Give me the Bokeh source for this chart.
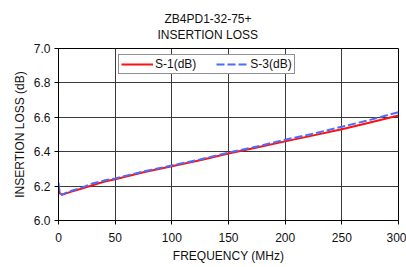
from bokeh.plotting import figure
from bokeh.models import Title, Legend, LegendItem, FixedTicker, Range1d
from bokeh.embed import file_html
from bokeh.resources import INLINE

freq = [0, 1, 3, 10, 20, 30, 40, 50, 75, 100, 125, 150, 175, 200, 225, 250, 275, 300]
s1_db = [6.20, 6.16, 6.15, 6.165, 6.185, 6.205, 6.225, 6.24, 6.28, 6.315, 6.35, 6.39, 6.425, 6.46, 6.495, 6.53, 6.57, 6.61]
s3_db = [6.22, 6.16, 6.15, 6.17, 6.19, 6.215, 6.232, 6.245, 6.285, 6.32, 6.355, 6.395, 6.43, 6.47, 6.505, 6.545, 6.585, 6.63]
x_ticks = [0, 50, 100, 150, 200, 250, 300]
y_ticks = [6.0, 6.2, 6.4, 6.6, 6.8, 7.0]
title_lines = ["ZB4PD1-32-75+", "INSERTION  LOSS"]

FONT = "Liberation Sans"
FS = "12px"

p = figure(width=406, height=267, output_backend="svg", toolbar_location=None,
           x_range=Range1d(0, 300), y_range=Range1d(6.0, 7.0),
           min_border_left=58, min_border_top=48, min_border_right=8, min_border_bottom=47)

# spacer between the frame and the title block
p.add_layout(Title(text=" ", standoff=0, text_font=FONT, text_font_size="4px"), "above")
p.add_layout(Title(text=title_lines[1], align="left", offset=99, standoff=0,
                   text_font=FONT, text_font_size=FS, text_font_style="normal",
                   text_color="#111111"), "above")
p.add_layout(Title(text=title_lines[0], align="left", offset=106, standoff=0,
                   text_font=FONT, text_font_size=FS, text_font_style="normal",
                   text_color="#111111"), "above")

p.outline_line_color = "black"
p.outline_line_width = 1

for ax in (p.xaxis, p.yaxis):
    ax.major_label_text_font = FONT
    ax.major_label_text_font_size = FS
    ax.major_label_text_color = "#111111"
    ax.axis_label_text_font = FONT
    ax.axis_label_text_font_size = FS
    ax.axis_label_text_font_style = "normal"
    ax.axis_label_text_color = "#111111"
    ax.minor_tick_line_color = None
    ax.major_tick_in = 0
    ax.major_tick_out = 4
    ax.major_tick_line_color = "black"
    ax.axis_line_color = "black"

p.xaxis.ticker = FixedTicker(ticks=x_ticks)
p.yaxis.ticker = FixedTicker(ticks=y_ticks)
p.yaxis.major_label_overrides = {v: f"{v:.1f}" for v in y_ticks}
p.xaxis.axis_label = "FREQUENCY (MHz)"
p.yaxis.axis_label = "INSERTION LOSS (dB)"
p.xaxis.major_label_standoff = 8
p.yaxis.major_label_standoff = 4
p.xaxis.axis_label_standoff = 4
p.yaxis.axis_label_standoff = 4

p.xgrid.ticker = FixedTicker(ticks=x_ticks)
p.ygrid.ticker = FixedTicker(ticks=y_ticks)
p.grid.grid_line_color = "#3a3a3a"
p.grid.grid_line_width = 1

r1 = p.line(freq, s1_db, line_color="#ff1010", line_width=2)
r3 = p.line(freq, s3_db, line_color="#4a6cff", line_width=2, line_dash="8 3")

legend = Legend(items=[LegendItem(label="S-1(dB)", renderers=[r1]),
                       LegendItem(label="S-3(dB)", renderers=[r3])],
                orientation="horizontal", location=(60, 146),
                label_text_font=FONT, label_text_font_size=FS, label_text_color="#111111",
                glyph_width=32, glyph_height=10, label_standoff=2, spacing=20,
                padding=2, margin=0, label_height=10,
                border_line_color="#222222", border_line_width=1,
                background_fill_color="white", background_fill_alpha=1)
p.add_layout(legend, "center")

open("out.html", "w").write(file_html(p, INLINE))
